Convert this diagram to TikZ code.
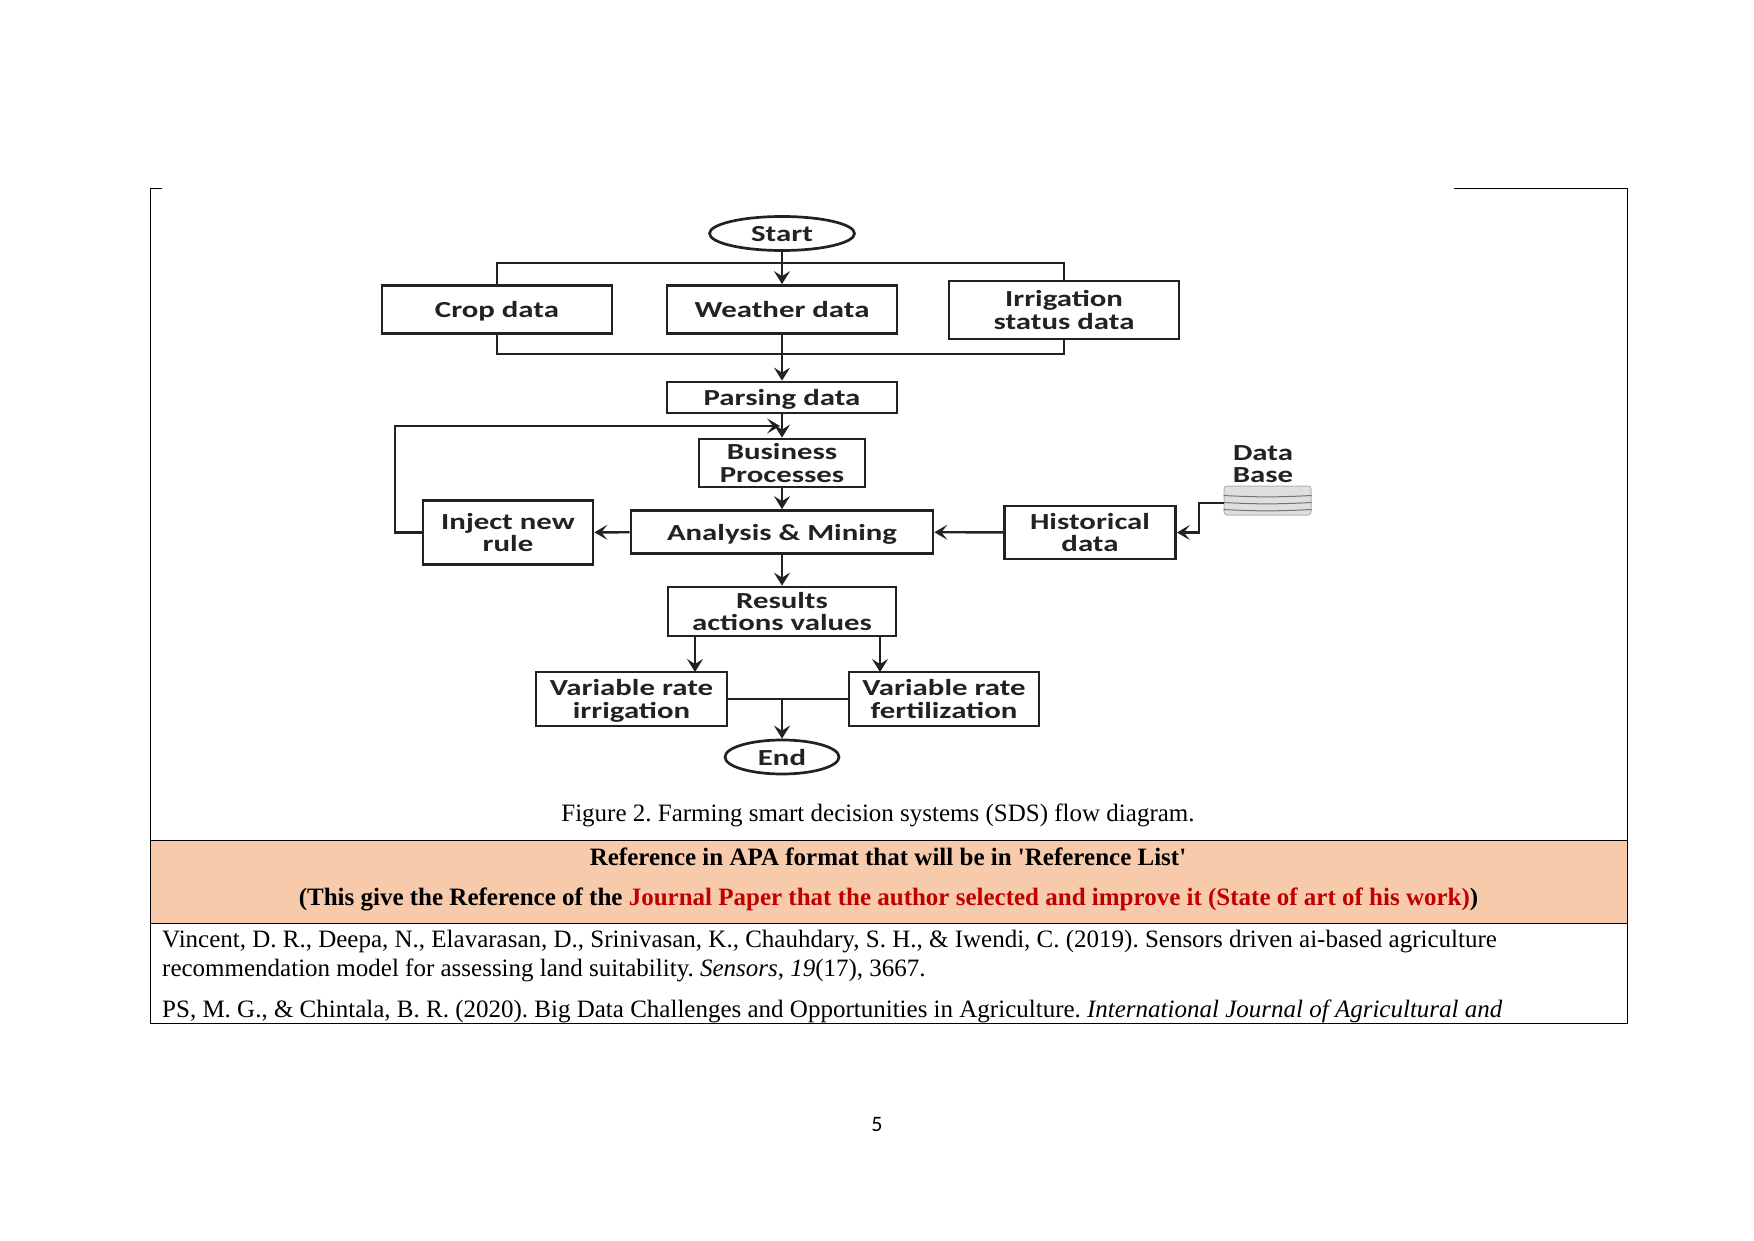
\documentclass[tikz,border=0pt]{standalone}
\usepackage{fontspec}
\setmainfont{Liberation Serif}
\newfontfamily\flowfont[FakeStretch=1.34]{Carlito}
\newfontfamily\pagefont{Carlito}
\usetikzlibrary{arrows.meta,shapes.geometric}
\definecolor{peach}{HTML}{F7CAAC}
\definecolor{darkred}{HTML}{C00000}
\definecolor{flowink}{HTML}{222222}
\tikzset{flowbox/.style={draw=flowink, line width=2.7pt, rectangle, inner sep=0pt, align=center, text=flowink, text depth=0pt, font=\flowfont\bfseries\fontsize{23}{22.4}\selectfont}}
\tikzset{flowend/.style={flowbox, ellipse}}
\tikzset{flowline/.style={draw=flowink, line width=2.7pt}}
\tikzset{flowarrow/.style={flowline, -{Stealth[length=13pt, width=16pt, inset=5pt]}}}
\tikzset{thinarrow/.style={flowline, line width=2.4pt, -{Stealth[length=13pt, width=15pt, inset=6pt]}}}
\tikzset{bodytext/.style={inner sep=0pt, font=\frenchspacing\fontsize{25}{29}\selectfont}}
\tikzset{rule/.style={draw=black, line width=0.9pt}}

\begin{document}
\begin{tikzpicture}[x=1pt, y=-1pt]
    \useasboundingbox (0,0) rectangle (1754,1241);

    % table
    \fill[peach] (150,840) rectangle (1627.5,923);
    \draw[rule] (162,188) -- (150,188) -- (150,1023) -- (1627.5,1023) -- (1627.5,188) -- (1454,188);
    \draw[rule] (150,840) -- (1627.5,840);
    \draw[rule] (150,923) -- (1627.5,923);

    % flow boxes
    \node (start) at (782,233.5) [flowend, minimum width=145, minimum height=34] {Start};
    \node (crop) at (497,309.5) [flowbox, minimum width=230, minimum height=48] {Crop data};
    \node (weather) at (782,309.5) [flowbox, minimum width=230, minimum height=48] {Weather data};
    \node (irrig) at (1064,310) [flowbox, minimum width=230, minimum height=58] {Irrigation\\status data};
    \node (parsing) at (782,397.5) [flowbox, minimum width=230, minimum height=31] {Parsing data};
    \node (business) at (782,463) [flowbox, minimum width=166, minimum height=48] {Business\\Processes};
    \node (analysis) at (782,532) [flowbox, minimum width=302, minimum height=43] {Analysis \& Mining};
    \node (inject) at (508,532.5) [flowbox, minimum width=170, minimum height=64] {Inject new\\rule};
    \node (histor) at (1090,532.5) [flowbox, minimum width=171, minimum height=53] {Historical\\data};
    \node (results) at (782,611.5) [flowbox, minimum width=228, minimum height=49] {Results\\actions values};
    \node (varirr) at (631.5,699) [flowbox, minimum width=191, minimum height=54] {Variable rate\\irrigation};
    \node (varfert) at (944,699) [flowbox, minimum width=190, minimum height=54] {Variable rate\\fertilization};
    \node (end) at (782,757) [flowend, minimum width=114, minimum height=34] {End};

    % data base
    \node (dbtext) at (1263,464) [flowbox, draw=none] {Data\\Base};
    \node (db) at (1267.5,500.5) [draw=gray!60, fill=gray!25, line width=1pt, rounded corners=3pt, minimum width=87, minimum height=29, inner sep=0pt] {};
    \foreach \dy in {-9,-2,5} {
        \draw[gray!90!black, line width=1pt] ([yshift=\dy pt]db.west) to[bend right=3] ([yshift=\dy pt]db.east);
    }

    % helper points
    \coordinate (bustop) at (782,263);
    \coordinate (busbot) at (782,354);
    \coordinate (fbcorner) at (395,426);
    \coordinate (fbtip) at (780,426);
    \coordinate (dbout) at (1224,503);
    \coordinate (dbbend) at (1199,503);
    \coordinate (resleft) at (695,672);
    \coordinate (resright) at (880,672);
    \coordinate (joint) at (782,699);

    % connectors
    \draw[flowline] (crop.north) |- (bustop) -| (irrig.north);
    \draw[flowarrow] (start) -- (weather);
    \draw[flowline] (crop.south) |- (busbot) -| (irrig.south);
    \draw[flowarrow] (weather) -- (parsing);
    \draw[flowarrow] (parsing) -- (business);
    \draw[thinarrow] (inject.west) -| (fbcorner) -- (fbtip);
    \draw[flowarrow] (business) -- (analysis);
    \draw[thinarrow] (analysis) -- (inject);
    \draw[thinarrow] (histor) -- (analysis);
    \draw[thinarrow] (dbout) -- (dbbend) |- (histor.east);
    \draw[flowarrow] (analysis) -- (results);
    \draw[flowarrow] (results.south -| resleft) -- (resleft);
    \draw[flowarrow] (results.south -| resright) -- (resright);
    \draw[flowline] (varirr) -- (varfert);
    \draw[flowarrow] (joint) -- (end);

    % text of the page
    \node (caption) at (878,821) [bodytext, anchor=base] {Figure 2. Farming smart decision systems (SDS) flow diagram.};
    \node (reftitle) at (888,865) [bodytext, anchor=base, font=\frenchspacing\bfseries\fontsize{25}{29}\selectfont] {Reference in APA format that will be in \textquotesingle Reference List\textquotesingle};
    \node (refnote) at (888.5,905) [bodytext, anchor=base, font=\frenchspacing\bfseries\fontsize{25}{29}\selectfont] {(This give the Reference of the \textcolor{darkred}{Journal Paper that the author selected and improve it (State of art of his work)})};
    \node (refa) at (162,947) [bodytext, anchor=base west] {Vincent, D. R., Deepa, N., Elavarasan, D., Srinivasan, K., Chauhdary, S. H., \& Iwendi, C. (2019). Sensors driven ai-based agriculture};
    \node (refb) at (162,976) [bodytext, anchor=base west] {recommendation model for assessing land suitability. \textit{Sensors}, \textit{19}(17), 3667.};
    \node (refc) at (162,1017) [bodytext, anchor=base west] {PS, M. G., \& Chintala, B. R. (2020). Big Data Challenges and Opportunities in Agriculture. \textit{International Journal of Agricultural and}};
    \node (pagenum) at (877,1125) [inner sep=0pt, font=\pagefont\fontsize{22}{22}\selectfont] {5};
\end{tikzpicture}
\end{document}
